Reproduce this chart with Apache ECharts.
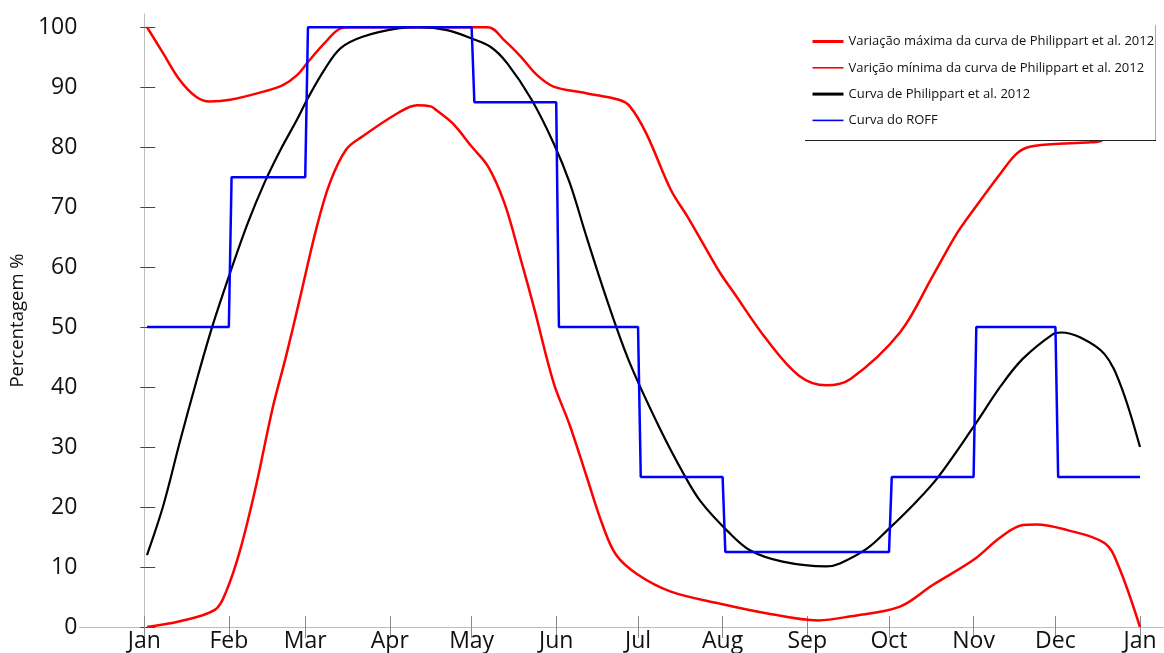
<!DOCTYPE html>
<html>
<head>
<meta charset="utf-8">
<script src="https://cdn.jsdelivr.net/npm/echarts@6/dist/echarts.min.js"></script>
<style>
html,body{margin:0;padding:0;background:#fff;}
#chart{width:1164px;height:653px;}
</style>
</head>
<body>
<div id="chart"></div>
<script>
// Month tick positions (day of year) and labels
const monthTicks = [0, 31, 59, 90, 120, 151, 181, 212, 243, 273, 304, 334, 365];
const monthLabels = ['Jan','Feb','Mar','Apr','May','Jun','Jul','Aug','Sep','Oct','Nov','Dec','Jan'];
const yTicks = [0, 10, 20, 30, 40, 50, 60, 70, 80, 90, 100];

const seriesNames = [
  'Variação máxima da curva de Philippart et al. 2012',
  'Varição mínima da curva de Philippart et al. 2012',
  'Curva de Philippart et al. 2012',
  'Curva do ROFF'
];

// Maximum variation curve
const maxDays = [1, 7, 13, 19, 24, 31.5, 44, 51, 56, 60, 66, 72, 76, 126, 132, 138, 144, 150, 162, 174, 178, 184, 193, 199, 204, 211, 216, 228, 240, 250, 259, 277, 289, 298, 305, 314, 320, 325, 337, 347, 351, 356, 361, 365];
const maxVals = [100, 95.6, 91.2, 88.4, 87.6, 87.9, 89.3, 90.4, 92.0, 94.2, 97.3, 99.8, 100, 100, 97.8, 95.1, 92.0, 90.1, 89.0, 87.9, 86.8, 82.3, 72.9, 68.5, 64.6, 59.1, 55.8, 48.0, 41.9, 40.3, 41.4, 49.1, 58.5, 65.7, 70.2, 75.7, 79.0, 80.1, 80.6, 80.8, 81.1, 85, 92, 98];

// Minimum variation curve
const minDays = [1, 13, 26, 30, 35, 41, 47, 52, 57, 63, 68, 74, 80, 93, 100, 105, 107, 113, 120, 126, 132, 138, 143, 150, 156, 162, 168, 173, 181, 193, 211, 228, 247, 259, 277, 289, 304, 314, 322, 327, 338, 352, 357, 365];
const minVals = [0, 0.95, 2.9, 5.9, 12.6, 23.6, 36.4, 45.2, 54.7, 66.3, 74.0, 79.6, 81.8, 85.7, 87.0, 86.8, 86.2, 84.0, 80.1, 76.8, 70.7, 61.3, 53.0, 40.8, 33.6, 25.3, 17.0, 12.0, 8.7, 5.9, 3.9, 2.3, 1.1, 1.8, 3.4, 7.0, 11.2, 15.0, 17.0, 17.1, 16.2, 14.0, 10.3, 0];

// Philippart et al. 2012 curve
const phDays = [1, 7, 13, 19, 25, 31.5, 38, 44, 50, 56, 60, 66, 72, 80, 93, 101, 111, 120, 127, 133, 142, 150, 156, 162, 170, 178, 189, 198, 204, 214, 222, 234, 250, 255, 265, 273, 283, 291, 304, 314, 322, 333, 336, 343, 352, 358, 365];
const phVals = [12.0, 20.3, 30.8, 40.8, 50.2, 59.1, 67.4, 74.0, 79.6, 84.6, 88.2, 92.9, 96.5, 98.4, 99.8, 100, 99.5, 98.1, 96.7, 94.0, 87.9, 80.7, 74.0, 65.2, 54.0, 44.0, 33.1, 25.3, 20.9, 15.9, 12.8, 10.9, 10.1, 10.6, 13.1, 16.4, 20.9, 25.0, 33.4, 40.2, 44.7, 48.8, 49.1, 48.3, 45.5, 40.2, 30.0];

// ROFF curve (monthly steps)
const roffDays = [1, 31, 32, 59, 60, 120, 121, 151, 152, 181, 182, 212, 213, 273, 274, 304, 305, 334, 335, 365];
const roffVals = [50, 50, 75, 75, 100, 100, 87.5, 87.5, 50, 50, 25, 25, 12.5, 12.5, 25, 25, 50, 50, 25, 25];

function pairs(xs, ys) { return xs.map((x, i) => [x, ys[i]]); }

const FONT = '"Open Sans", "Noto Sans", sans-serif';
const chart = echarts.init(document.getElementById('chart'));

const xCommon = {
  type: 'value', min: -23.8, max: 373.8,
  splitLine: { show: false },
  axisLine: { show: true, lineStyle: { color: '#bdbdbd', width: 1 } },
  axisTick: { show: true, inside: true, length: 11, customValues: monthTicks, lineStyle: { color: '#8a8a8a', width: 1 } }
};

chart.setOption({
  animation: false,
  backgroundColor: '#fff',
  grid: { left: 79, top: 14, right: 0, bottom: 24, containLabel: false },
  xAxis: [
    Object.assign({}, xCommon, {
      position: 'bottom',
      axisLabel: {
        show: true, customValues: monthTicks, margin: 3,
        color: '#111', fontSize: 23, fontFamily: FONT,
        formatter: v => monthLabels[monthTicks.indexOf(v)]
      }
    }),
    Object.assign({}, xCommon, { position: 'top', axisLabel: { show: false } })
  ],
  yAxis: [
    {
      type: 'value', min: 0, max: 102.2, position: 'left',
      splitLine: { show: false },
      axisLine: { show: true, lineStyle: { color: '#bdbdbd', width: 1 } },
      axisTick: { show: true, inside: true, length: 11, customValues: yTicks, lineStyle: { color: '#444', width: 1 } },
      name: 'Percentagem %', nameLocation: 'middle', nameGap: 50,
      nameTextStyle: { color: '#111', fontSize: 18.5, fontFamily: FONT },
      axisLabel: {
        show: true, customValues: yTicks, margin: 2,
        color: '#111', fontSize: 23, fontFamily: FONT
      }
    },
    {
      type: 'value', min: 0, max: 102.2, position: 'right',
      splitLine: { show: false },
      axisLine: { show: false },
      axisTick: { show: true, inside: true, length: 4, customValues: yTicks, lineStyle: { color: '#444', width: 1 } },
      axisLabel: { show: false }
    }
  ],
  legend: {
    orient: 'vertical', left: 811, top: 35, z: 20, padding: 0,
    itemWidth: 31, itemHeight: 14, itemGap: 13.3,
    itemStyle: { opacity: 0 },
    textStyle: { color: '#111', fontSize: 13, fontFamily: FONT },
    data: [
      { name: seriesNames[0], lineStyle: { width: 3 } },
      { name: seriesNames[1], lineStyle: { width: 1.6 } },
      { name: seriesNames[2], lineStyle: { width: 3 } },
      { name: seriesNames[3], lineStyle: { width: 1.6 } }
    ]
  },
  graphic: [
    { type: 'rect', z: 10, shape: { x: 805, y: 25, width: 351, height: 115 }, style: { fill: '#fff' } },
    { type: 'line', z: 11, shape: { x1: 805, y1: 140.5, x2: 1156, y2: 140.5 }, style: { stroke: '#222', lineWidth: 1 } },
    { type: 'line', z: 11, shape: { x1: 1155.5, y1: 25, x2: 1155.5, y2: 140 }, style: { stroke: '#aaa', lineWidth: 1 } }
  ],
  series: [
    { name: seriesNames[0], type: 'line', symbol: 'none', smooth: 0.35, data: pairs(maxDays, maxVals), lineStyle: { color: '#ff0000', width: 2.5 }, itemStyle: { color: '#ff0000' } },
    { name: seriesNames[1], type: 'line', symbol: 'none', smooth: 0.35, data: pairs(minDays, minVals), lineStyle: { color: '#ff0000', width: 2.5 }, itemStyle: { color: '#ff0000' } },
    { name: seriesNames[2], type: 'line', symbol: 'none', smooth: 0.35, data: pairs(phDays, phVals), lineStyle: { color: '#000000', width: 2.2 }, itemStyle: { color: '#000000' } },
    { name: seriesNames[3], type: 'line', symbol: 'none', data: pairs(roffDays, roffVals), lineStyle: { color: '#0000ff', width: 2.5 }, itemStyle: { color: '#0000ff' } }
  ]
});
</script>
</body>
</html>
